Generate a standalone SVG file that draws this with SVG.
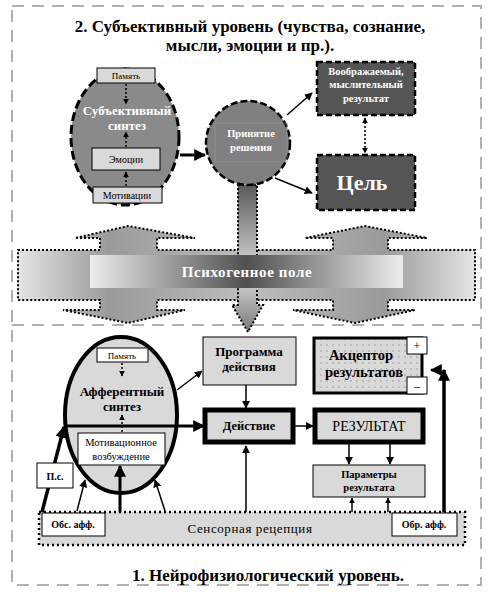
<svg xmlns="http://www.w3.org/2000/svg" width="500" height="600" viewBox="0 0 500 600" font-family="'Liberation Serif','DejaVu Serif','Times New Roman',serif">
<style>
text{font-family:'Liberation Serif','DejaVu Serif','Times New Roman',serif;text-anchor:middle}
.b{font-weight:bold}
.w{fill:#fff}
.frame{fill:none;stroke:#b0b0b0;stroke-width:2;stroke-dasharray:12,8}
.dk{fill:#555;stroke:#000;stroke-width:2.5;stroke-dasharray:6,3}
.lb{fill:#d9d9d9;stroke:#000;stroke-width:1}
.wb{fill:#fff;stroke:#000;stroke-width:1}
.thick{fill:#d9d9d9;stroke:#000;stroke-width:5}
.ln{fill:none;stroke:#000;stroke-width:1.5}
.ln2{fill:none;stroke:#000;stroke-width:3}
.dot{fill:none;stroke:#000;stroke-width:1.5;stroke-dasharray:2,2}
.fld{stroke:#000;stroke-width:2;stroke-dasharray:2,2}
</style>
<defs>
<marker id="a" viewBox="0 0 10 10" refX="9" refY="5" markerUnits="userSpaceOnUse" markerWidth="8" markerHeight="8" orient="auto"><path d="M0,0L10,5L0,10z" fill="#000"/></marker>
<marker id="aT" viewBox="0 0 10 10" refX="9" refY="5" markerUnits="userSpaceOnUse" markerWidth="12" markerHeight="12" orient="auto"><path d="M0,0L10,5L0,10z" fill="#000"/></marker>
<marker id="a2" viewBox="0 0 10 10" refX="9" refY="5" markerUnits="userSpaceOnUse" markerWidth="6" markerHeight="6" orient="auto-start-reverse"><path d="M0,0L10,5L0,10z" fill="#000"/></marker>
<linearGradient id="gField" x1="0" y1="0" x2="1" y2="0">
<stop offset="0" stop-color="#e4e4e4"/><stop offset="0.2" stop-color="#9a9a9a"/><stop offset="0.5" stop-color="#bdbdbd"/><stop offset="0.8" stop-color="#9a9a9a"/><stop offset="1" stop-color="#e4e4e4"/>
</linearGradient>
<linearGradient id="gLabel" x1="0" y1="0" x2="1" y2="0">
<stop offset="0" stop-color="#ececec"/><stop offset="0.5" stop-color="#505050"/><stop offset="1" stop-color="#ececec"/>
</linearGradient>
<linearGradient id="gDown" x1="0" y1="0" x2="0" y2="1">
<stop offset="0" stop-color="#5a5a5a"/><stop offset="0.6" stop-color="#dcdcdc"/><stop offset="1" stop-color="#7a7a7a"/>
</linearGradient>
<pattern id="pd" width="6" height="6" patternUnits="userSpaceOnUse"><rect width="6" height="6" fill="#d9d9d9"/><circle cx="3" cy="3" r="0.7" fill="#888"/></pattern>
</defs>

<g id="frames">
<rect class="frame" x="12" y="6" width="469" height="579"/>
<line class="frame" x1="12" y1="325" x2="481" y2="325"/>
</g>

<g id="titles">
<text class="b" x="250" y="32" font-size="17">2. Субъективный уровень (чувства, сознание,</text>
<text class="b" x="250" y="51" font-size="17">мысли, эмоции и пр.).</text>
<text class="b" x="268" y="581" font-size="17">1. Нейрофизиологический уровень.</text>
</g>

<g id="field">
<path class="fld" fill="url(#gField)" d="M18,250H100V238H75L128,226L195,238H157V250H333V238H305L365,226L427,238H388V250H475V300H388V310H415L355,323L293,310H333V300H157V310H185L128,323L63,310H100V300H18Z"/>
</g>

<g id="decisionArrow">
<path class="fld" fill="url(#gDown)" d="M238,185H257V305H263L248,332L232,305H238Z"/>
</g>

<g id="fieldLabel">
<rect x="90" y="255" width="313" height="33" fill="url(#gLabel)"/>
<text class="b w" x="247" y="277" font-size="15" letter-spacing="0.6">Психогенное поле</text>
</g>

<g id="subjSynth">
<ellipse cx="125" cy="137" rx="54" ry="68" fill="#8a8a8a" stroke="#000" stroke-width="3" stroke-dasharray="9,4"/>
<rect class="lb" x="97" y="68" width="58" height="15"/>
<text x="126" y="79" font-size="9">Память</text>
<text class="b w" x="127" y="115" font-size="13">Субъективный</text>
<text class="b w" x="127" y="130" font-size="13">синтез</text>
<rect class="lb" x="92" y="148" width="68" height="22"/>
<text x="126" y="163" font-size="10">Эмоции</text>
<rect class="lb" x="93" y="187" width="69" height="16"/>
<text x="127" y="199" font-size="10">Мотивации</text>
</g>

<g id="decision">
<circle cx="248" cy="143" r="42" fill="#808080" stroke="#000" stroke-width="2.5" stroke-dasharray="7,3"/>
<rect x="215" y="123" width="72" height="39" fill="none" stroke="#999" stroke-width="0.6"/>
<text class="b w" x="251" y="137" font-size="10.5">Принятие</text>
<text class="b w" x="251" y="151" font-size="10.5">решения</text>
</g>

<g id="imagined">
<rect class="dk" x="317" y="62" width="98" height="53"/>
<text class="b w" x="366" y="75" font-size="10.5">Воображаемый,</text>
<text class="b w" x="366" y="88" font-size="10.5">мыслительный</text>
<text class="b w" x="366" y="102" font-size="10.5">результат</text>
</g>

<g id="goal">
<rect class="dk" x="317" y="155" width="98" height="55"/>
<text class="b w" x="362" y="190" font-size="22">Цель</text>
</g>

<g id="afferent">
<ellipse cx="121" cy="415" rx="56" ry="78" fill="#d9d9d9" stroke="#000" stroke-width="4"/>
<rect class="wb" x="97" y="348" width="51" height="14"/>
<text x="122" y="359" font-size="9">Память</text>
<text class="b" x="122" y="396" font-size="13">Афферентный</text>
<text class="b" x="122" y="411" font-size="13">синтез</text>
<rect class="wb" x="78" y="433" width="87" height="32"/>
<text x="121" y="446" font-size="10.5">Мотивационное</text>
<text x="121" y="460" font-size="10.5">возбуждение</text>
</g>

<g id="program">
<rect class="lb" x="203" y="337" width="93" height="48"/>
<text class="b" x="249" y="356" font-size="13">Программа</text>
<text class="b" x="249" y="371" font-size="13">действия</text>
</g>

<g id="action">
<rect class="thick" x="205" y="410" width="88" height="32"/>
<text class="b" x="249" y="430" font-size="12.5">Действие</text>
</g>

<g id="result">
<rect class="thick" x="315" y="410" width="108" height="32"/>
<text x="369" y="431" font-size="14">РЕЗУЛЬТАТ</text>
</g>

<g id="acceptor">
<rect x="314" y="338" width="108" height="55" fill="url(#pd)" stroke="#000" stroke-width="3"/>
<text class="b" x="361" y="360" font-size="14.5">Акцептор</text>
<text class="b" x="364" y="377" font-size="14.5">результатов</text>
<rect class="wb" x="407" y="337" width="20" height="17"/>
<text x="417" y="350" font-size="12">+</text>
<rect class="wb" x="407" y="377" width="20" height="17"/>
<text x="417" y="390" font-size="12">–</text>
</g>

<g id="params">
<rect class="lb" x="313" y="465" width="112" height="32"/>
<text class="b" x="369" y="478" font-size="10.5">Параметры</text>
<text class="b" x="369" y="491" font-size="10.5">результата</text>
</g>

<g id="connectors">
<line class="ln2" x1="180" y1="155" x2="205" y2="155" marker-end="url(#aT)"/>
<line class="ln" x1="287" y1="115" x2="312" y2="93" marker-end="url(#a)"/>
<line class="ln" x1="275" y1="178" x2="312" y2="193" marker-end="url(#a)"/>
<line class="dot" x1="365" y1="118" x2="365" y2="153" marker-start="url(#a2)" marker-end="url(#a2)"/>
<line class="dot" x1="126" y1="84" x2="126" y2="104" marker-end="url(#a2)"/>
<line class="dot" x1="126" y1="147" x2="126" y2="132" marker-end="url(#a2)"/>
<line class="dot" x1="126" y1="186" x2="126" y2="172" marker-end="url(#a2)"/>
<line class="dot" x1="122" y1="363" x2="122" y2="376" marker-end="url(#a2)"/>
<line class="dot" x1="122" y1="432" x2="122" y2="415" marker-end="url(#a2)"/>
<line class="ln2" x1="65" y1="426" x2="204" y2="426" marker-end="url(#aT)"/>
<line class="ln" x1="177" y1="390" x2="202" y2="371" marker-end="url(#a)"/>
<line class="ln" x1="246" y1="385" x2="246" y2="408" marker-end="url(#a)"/>
<line class="ln" x1="246" y1="512" x2="246" y2="446" marker-end="url(#a)"/>
<line class="ln" x1="293" y1="426" x2="313" y2="426" marker-end="url(#a)"/>
<line class="ln" x1="349" y1="443" x2="349" y2="464" marker-end="url(#a)"/>
<line class="ln" x1="390" y1="443" x2="390" y2="464" marker-end="url(#a)"/>
<line class="ln" x1="352" y1="512" x2="352" y2="498" marker-end="url(#a2)"/>
<line class="ln" x1="388" y1="512" x2="388" y2="498" marker-end="url(#a2)"/>
<line class="ln" x1="77" y1="511" x2="85" y2="480" marker-end="url(#a)"/>
<line class="ln2" x1="120" y1="512" x2="120" y2="466" marker-end="url(#aT)"/>
<line class="ln" x1="165" y1="511" x2="155" y2="480" marker-end="url(#a)"/>
<line x1="42" y1="512" x2="64" y2="427" stroke="#000" stroke-width="3.5" marker-end="url(#aT)"/>
<line x1="444" y1="512" x2="444" y2="370" stroke="#000" stroke-width="3.5" marker-end="url(#aT)"/>
<path d="M443,376Q441,370 431,370" fill="none" stroke="#000" stroke-width="2.5" marker-end="url(#aT)"/>
</g>

<g id="ps">
<rect class="wb" x="37" y="463" width="36" height="25"/>
<text class="b" x="55" y="480" font-size="10">П.с.</text>
</g>

<g id="sensor">
<rect x="39" y="512" width="426" height="33" fill="#d9d9d9" stroke="#000" stroke-width="2.5" stroke-dasharray="2,3"/>
<text x="250" y="533" font-size="13" letter-spacing="0.6">Сенсорная рецепция</text>
<rect class="wb" x="42" y="513" width="63" height="23"/>
<text class="b" x="73" y="528" font-size="10">Обс. афф.</text>
<rect class="wb" x="392" y="513" width="65" height="23"/>
<text class="b" x="424" y="528" font-size="10">Обр. афф.</text>
</g>
</svg>
